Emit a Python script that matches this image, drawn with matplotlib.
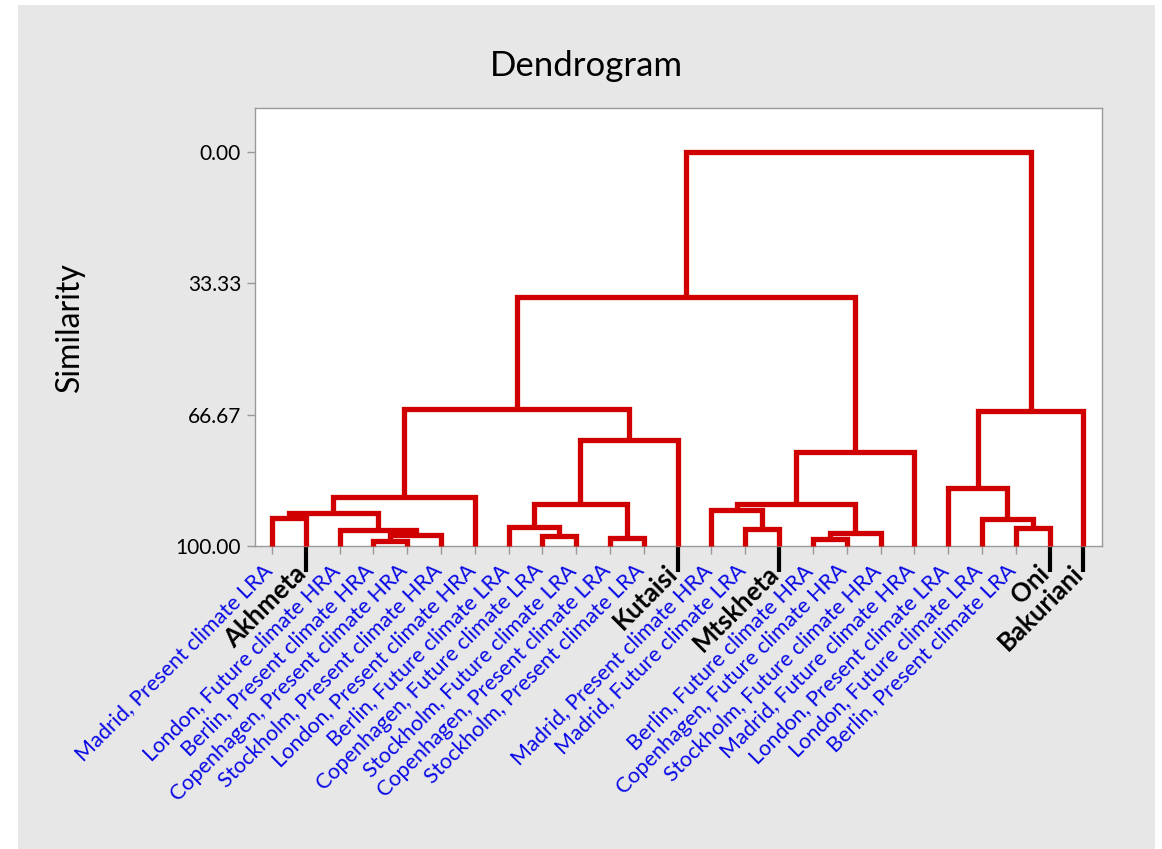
import matplotlib
matplotlib.use("Agg")
import matplotlib.pyplot as plt
from matplotlib.patches import Rectangle
from matplotlib.transforms import ScaledTranslation

# ---- data ----
leaf_labels = [
    "Madrid, Present climate LRA", "Akhmeta", "London, Future climate HRA",
    "Berlin, Present climate HRA", "Copenhagen, Present climate HRA",
    "Stockholm, Present climate HRA", "London, Present climate HRA",
    "Berlin, Future climate LRA", "Copenhagen, Future climate LRA",
    "Stockholm, Future climate LRA", "Copenhagen, Present climate LRA",
    "Stockholm, Present climate LRA", "Kutaisi", "Madrid, Present climate HRA",
    "Madrid, Future climate LRA", "Mtskheta", "Berlin, Future climate HRA",
    "Copenhagen, Future climate HRA", "Stockholm, Future climate HRA",
    "Madrid, Future climate HRA", "London, Present climate LRA",
    "London, Future climate LRA", "Berlin, Present climate LRA", "Oni", "Bakuriani",
]
locations = ["Akhmeta", "Kutaisi", "Mtskheta", "Oni", "Bakuriani"]

# merges: (left node, right node); leaves are 0..24, new clusters numbered 25, 26, ...
merge_left = [0, 3, 26, 2, 25, 29, 8, 7, 10, 32, 34, 30, 14, 13, 16, 39, 38, 41, 36, 22, 21, 20, 46, 43]
merge_right = [1, 4, 5, 27, 28, 6, 9, 31, 11, 33, 12, 35, 15, 37, 17, 18, 40, 19, 42, 23, 44, 45, 24, 47]
similarity = [93.0, 98.7, 97.2, 96.0, 91.7, 87.6, 97.5, 95.2, 98.0, 89.3, 73.1, 65.2,
              95.7, 90.9, 98.2, 96.7, 89.3, 76.1, 36.8, 95.4, 93.1, 85.3, 65.7, 0.0]

yticks = [0.0, 33.33, 66.67, 100.0]

# ---- figure ----
W, H = 1162, 849
fig = plt.figure(figsize=(W / 100, H / 100), dpi=100, facecolor="white")
fig.patches.append(Rectangle((18 / W, 0), (1155 - 18) / W, (H - 5) / H,
                             transform=fig.transFigure, facecolor="#e7e7e7",
                             edgecolor="none", zorder=-10))

ax = fig.add_axes([255 / W, 1 - 546 / H, (1102 - 255) / W, (546 - 108) / H])
ax.set_facecolor("white")

n = len(leaf_labels)
xpos = {i: float(i) for i in range(n)}
hgt = {i: 100.0 for i in range(n)}
red = "#d00000"
for k, (a, b, s) in enumerate(zip(merge_left, merge_right, similarity)):
    node = n + k
    xa, xb = xpos[a], xpos[b]
    ax.plot([xa, xa, xb, xb], [hgt[a], s, s, hgt[b]], color=red, lw=3.8,
            solid_joinstyle="miter", solid_capstyle="butt", clip_on=False, zorder=3)
    xpos[node] = (xa + xb) / 2
    hgt[node] = s

ax.set_xlim(-0.5, n - 1 + 0.55)
ax.set_ylim(100, -11.2)

ax.set_yticks(yticks)
ax.set_yticklabels([f"{v:.2f}" for v in yticks], fontsize=15, family="Lato")
ax.tick_params(axis="y", length=6, width=1, color="#999999", pad=4)

ax.set_xticks(range(n))
ax.set_xticklabels(leaf_labels)
ax.tick_params(axis="x", length=6, width=1, color="#999999", pad=8)
for lab, tick in zip(ax.get_xticklabels(), ax.xaxis.get_major_ticks()):
    txt = lab.get_text()
    lab.set_rotation(45)
    lab.set_rotation_mode("anchor")
    lab.set_ha("right")
    lab.set_va("center")
    lab.set_family("Lato")
    if txt in locations:
        lab.set_fontsize(18.5)
        lab.set_fontweight("bold")
        lab.set_color("black")
        tick.tick1line.set_markersize(19)
        tick.tick1line.set_markeredgewidth(3)
        tick.tick1line.set_markeredgecolor("black")
        lab.set_transform(lab.get_transform() + ScaledTranslation(-0.04, -0.04, fig.dpi_scale_trans))
    else:
        lab.set_fontsize(15.5)
        lab.set_color("#0808e6")
        lab.set_transform(lab.get_transform() + ScaledTranslation(-0.03, -0.02, fig.dpi_scale_trans))

for sp in ax.spines.values():
    sp.set_color("#999999")
    sp.set_linewidth(1)

fig.text(586 / W, 1 - 66 / H, "Dendrogram", ha="center", va="center",
         fontsize=25, family="Lato")
fig.text(70 / W, 1 - 327 / H, "Similarity", ha="center", va="center",
         rotation=90, fontsize=23, family="Lato")

fig.savefig("out.png", dpi=100, facecolor=fig.get_facecolor())
